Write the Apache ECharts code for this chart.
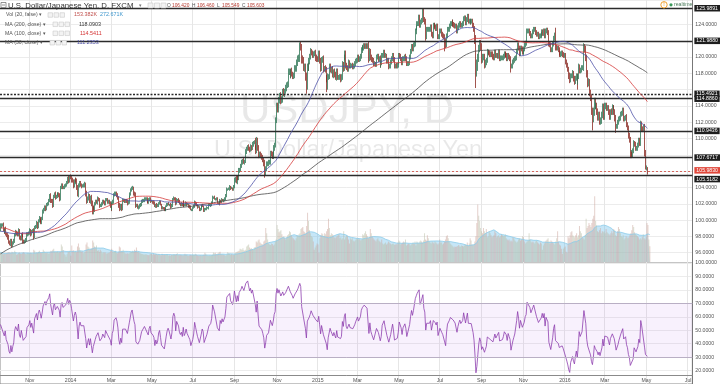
<!DOCTYPE html>
<html><head><meta charset="utf-8">
<script src="https://cdn.jsdelivr.net/npm/echarts@6/dist/echarts.min.js"></script>
<style>html,body{margin:0;padding:0;background:#fff}#c{width:720px;height:384px}</style>
</head><body><div id="c"></div><script>
// ---------- DATA ----------
// Daily closes before the visible window (Dec 13 2012 - Sep 18 2013), only used to warm up the MAs / RSI
const preCloses = [
83.6,84.2,84.1,84.3,84.4,84.2,84.3,84.6,85.0,85.5,85.9,86.0,86.7,
87.2,87.6,88.2,87.9,87.5,87.8,88.7,89.2,89.2,88.5,89.0,90.0,90.1,89.6,89.2,88.7,88.8,88.5,90.0,90.6,90.7,91.0,91.7,
92.6,92.5,92.3,93.6,93.6,92.7,93.4,93.4,93.1,92.8,93.5,93.6,93.6,93.3,93.4,92.2,91.7,92.5,92.6,92.5,
93.6,93.6,93.6,95.0,96.0,96.3,96.2,95.9,96.2,95.3,95.4,95.0,95.6,95.6,94.5,94.2,94.3,94.4,94.6,94.2,94.2,
93.3,93.3,93.2,96.2,97.6,99.2,98.8,99.6,99.8,99.3,98.2,97.6,97.8,98.2,98.0,99.7,99.3,99.7,98.7,97.9,97.5,97.4,
97.5,98.5,99.1,99.3,98.8,99.0,100.5,101.6,101.7,102.2,102.3,102.2,101.7,102.6,103.2,102.0,101.2,101.8,101.4,102.0,101.6,100.7,100.7,
100.0,99.6,99.4,97.1,96.8,98.5,97.4,95.9,94.0,94.0,94.3,95.1,95.5,97.3,97.8,98.2,98.6,97.9,98.5,99.1,
99.6,99.5,100.0,100.4,101.0,101.4,100.5,99.5,99.2,100.0,99.8,99.5,100.2,99.7,99.4,99.6,99.8,99.0,98.2,97.9,98.0,97.9,97.8,
98.6,99.0,98.9,98.6,97.7,97.2,96.7,96.3,96.8,97.6,97.8,97.3,97.6,97.7,97.2,98.3,98.4,98.7,98.4,97.8,98.0,98.1,
99.0,99.5,99.7,99.6,99.8,99.6,100.2,99.6,99.5,99.3,99.1,99.0,98.8
];
// Visible window: one trading day each, from 2013-09-19
const firstDay = '2013-09-19';
const lastCategoryDay = '2016-07-07';
const closes2013 = [
99.3,99.4,99.4,98.8,98.6,98.9,98.3,98.2,
97.9,97.3,97.1,97.5,96.9,97.2,97.4,98.2,98.5,98.4,98.2,98.7,97.9,97.7,98.2,98.1,97.4,97.3,97.4,97.6,98.2,98.3,98.4,
98.7,98.3,98.6,98.7,98.0,99.1,99.2,99.6,99.2,99.9,100.2,100.0,99.7,100.2,101.0,101.3,101.6,101.4,101.9,102.0,102.4,
103.0,102.4,102.3,101.8,102.9,103.2,102.8,102.9,103.2,103.2,103.0,102.6,104.0,104.3,104.0,104.0,104.2,104.3,104.6,105.1,104.8,105.3
];
const closes2014 = [
105.2,104.9,104.8,104.2,104.7,105.0,104.8,104.1,103.1,104.2,104.6,104.3,104.2,104.2,104.3,104.4,103.3,102.3,102.7,103.0,102.3,102.8,102.0,
101.0,101.5,101.3,102.0,102.3,102.2,102.6,102.5,101.8,101.8,102.0,102.3,102.2,102.0,102.5,102.5,102.2,102.3,102.1,101.8,
101.4,102.1,102.3,103.1,103.2,103.3,103.1,102.7,101.8,101.4,101.8,101.4,102.4,102.4,102.3,102.4,102.3,102.1,102.2,102.8,103.2,
103.7,103.9,103.9,103.3,103.1,101.8,101.8,101.6,101.6,101.8,101.9,102.3,102.4,102.4,102.6,102.6,102.6,102.3,102.2,102.5,102.6,102.3,
102.3,102.2,102.1,101.7,101.9,101.7,101.8,102.1,102.2,101.9,101.5,101.5,101.4,101.3,101.3,101.7,101.9,102.0,101.9,101.9,101.6,101.8,
102.5,102.7,102.6,102.0,102.5,102.5,102.3,102.0,101.9,102.0,101.8,102.2,101.8,101.9,102.1,101.9,101.9,101.7,101.6,101.3,101.3,
101.5,101.7,102.2,102.0,101.8,101.6,101.6,101.3,101.3,101.6,101.8,101.7,101.2,101.3,101.4,101.5,101.5,101.8,101.8,101.9,102.1,102.8,102.8,
102.6,102.6,102.6,102.1,102.1,102.0,102.4,102.3,102.5,102.4,102.4,102.6,103.0,103.8,103.8,103.8,104.1,103.9,103.9,103.8,104.1,
104.9,105.1,104.7,105.3,105.1,106.1,106.2,106.6,107.1,107.3,107.1,107.2,108.4,108.7,109.0,108.8,108.6,109.0,108.8,109.3,109.5,109.6,
108.9,108.5,109.8,108.9,108.0,108.1,107.9,107.7,107.4,107.0,105.9,106.3,106.9,106.9,107.1,107.1,108.2,108.1,107.8,108.2,108.9,109.2,112.3,
114.0,113.6,114.7,115.3,114.6,114.8,115.8,115.5,115.8,116.2,116.6,116.6,118.2,118.2,117.8,118.3,117.9,117.7,117.7,118.6,
118.6,119.3,119.8,119.8,121.4,121.2,119.7,119.6,118.7,118.8,117.6,116.4,118.8,118.7,119.5,120.0,120.7,120.5,120.2,120.4,120.5,119.9,119.8
];
const closes2015 = [
119.7,120.4,119.6,118.6,119.6,119.8,118.5,118.6,118.4,117.3,116.3,117.6,117.6,118.8,118.4,118.5,117.8,118.2,117.8,117.5,118.3,117.5,
117.5,117.6,117.3,117.5,119.1,118.6,119.9,120.4,119.0,118.7,118.5,119.3,118.9,119.0,119.0,118.8,118.9,119.2,119.5,119.6,
120.0,119.7,119.8,120.1,120.8,121.1,121.1,121.4,121.3,121.4,121.3,121.4,119.8,120.7,120.0,119.7,119.6,119.2,119.2,119.1,120.0,120.1,
119.7,119.8,119.0,119.3,120.2,120.2,120.6,120.2,120.2,119.5,119.6,118.9,118.9,119.4,119.8,120.2,119.7,118.9,119.0,118.9,119.0,119.4,
120.2,120.1,119.8,119.3,119.8,119.8,120.1,119.8,119.2,119.2,119.3,120.0,120.7,121.3,121.0,121.5,121.6,123.1,123.6,124.1,124.1,
124.8,123.9,124.3,124.5,125.6,124.6,124.3,122.5,123.4,123.4,123.4,123.4,123.7,122.8,122.6,123.9,123.9,123.7,123.5,123.8,122.5,122.5,
123.2,123.2,122.8,122.6,122.5,121.9,121.5,122.6,123.4,123.4,123.8,124.1,124.1,124.3,124.0,123.9,123.8,123.8,123.2,123.6,123.9,124.1,123.9,
123.9,124.1,124.7,124.8,124.2,124.6,125.0,124.4,124.4,124.3,124.4,124.4,123.9,123.4,122.0,118.4,118.9,119.9,121.0,121.7,121.2,
119.7,120.0,120.0,119.0,119.3,119.6,120.6,120.6,120.5,120.3,120.4,120.3,120.0,119.9,120.6,120.2,120.2,120.1,120.6,119.8,119.9,119.9,
119.9,120.1,120.4,120.3,120.2,119.8,120.2,120.0,119.8,118.9,118.9,119.4,119.6,119.8,119.9,120.7,121.5,121.1,120.4,121.1,121.0,120.6,
120.6,121.0,121.5,121.7,123.2,123.2,123.2,122.9,122.6,122.6,123.1,123.4,123.4,123.0,122.8,122.8,122.5,122.6,122.6,122.8,123.1,
122.9,123.2,122.6,123.2,123.3,123.0,121.6,121.5,120.9,120.9,121.6,122.3,122.6,121.2,121.1,121.1,120.9,120.5,120.3,120.4,120.5,120.3,120.2
];
const closes2016 = [
120.2,119.4,119.0,118.5,117.7,117.2,117.7,117.7,118.0,117.4,117.0,117.4,117.7,116.9,117.6,118.8,118.3,118.4,118.7,118.7,121.1,
121.0,119.9,117.9,116.8,116.9,115.6,115.0,113.3,112.4,113.2,114.6,114.0,114.0,113.3,112.6,112.9,112.1,112.2,112.9,113.9,112.7,
114.0,114.0,113.7,113.8,113.2,112.6,113.3,113.2,113.8,113.8,113.2,112.5,111.5,111.5,112.0,112.4,112.5,113.0,113.1,113.5,112.4,112.5,112.6,
111.7,111.3,110.3,109.8,108.1,108.1,108.0,108.5,109.4,109.3,108.8,108.8,109.2,109.8,109.4,111.8,111.2,111.1,111.4,108.1,106.4,
106.4,105.98
];
// Upper / lower shadows, in tenths of a yen beyond the candle body
const wickHi2013 = [3,2,2,3,2,2,3,2, 2,3,2,2,2,2,3,2,3,2,2,3,2,2,2,3,2,2,2,2,3,2,2, 3,2,2,2,3,2,2,3,2,2,3,2,2,2,3,2,2,2,2,2,2, 2,3,2,3,2,2,3,2,2,2,2,3,2,2,2,2,2,2,2,2,3,1];
const wickLo2013 = [2,3,2,2,3,2,2,3, 3,2,2,3,3,2,2,2,2,3,2,2,3,2,2,2,3,2,2,2,2,2,2, 2,3,2,2,4,2,2,2,3,2,2,3,2,2,2,2,2,3,2,2,2, 2,3,2,3,2,2,3,2,2,2,2,3,2,2,2,2,2,2,2,2,3,2];
const wickHi2014 = [
3,2,3,2,3,2,2,3,2,3,2,2,2,2,2,3,2,3,2,3,2,2,3, 4,2,3,2,2,2,3,2,2,2,2,2,2,2,2,2,2,2,2,2, 3,2,2,2,3,2,2,2,2,3,2,2,2,2,2,2,2,2,2,2,2,
2,2,3,2,2,3,2,2,2,2,2,2,2,2,2,2,2,2,2,2,2,2, 2,1,2,2,1,2,2,1,2,2,1,2,1,2,2,1,2,1,2,1,2,2, 2,2,1,2,2,1,2,2,1,2,1,2,2,1,2,1,2,1,2,2,1,
1,2,2,1,2,1,2,1,2,2,1,2,1,2,1,2,1,2,2,1,2,2,1, 2,1,2,2,1,2,2,1,2,1,2,2,2,2,1,2,2,1,2,1,2, 3,2,3,2,2,3,2,3,3,2,3,2,3,3,2,3,2,3,2,3,2,2,
5,3,4,3,3,3,3,3,3,3,4,3,3,3,3,3,3,3,3,3,3,3,3, 4,4,4,3,4,4,3,4,3,4,3,4,4,4,3,3,4,3,4,4, 4,4,4,5,4,5,4,5,4,4,4,5,4,5,4,4,4,3,3,3,3,4,4];
const wickLo2014 = [
2,3,2,3,2,3,2,4,2,3,2,2,3,2,2,3,4,3,2,3,2,3,3, 3,3,2,3,2,2,3,2,3,2,2,2,2,2,2,2,2,2,2,3, 3,2,2,3,2,2,3,2,3,3,2,3,2,2,2,2,2,3,2,2,2,
2,2,2,3,2,3,2,2,3,2,2,2,2,2,2,2,2,2,2,2,2,2, 1,2,2,1,2,2,1,2,2,1,2,2,1,2,2,2,1,2,1,2,2,1, 2,1,2,2,1,2,2,1,2,2,1,2,2,1,2,2,1,2,2,1,2,
2,1,2,2,1,2,1,2,2,1,2,1,2,2,1,2,1,2,1,2,2,1,2, 1,2,2,1,2,2,1,2,2,1,2,1,2,2,2,1,2,2,1,2,2, 2,3,2,3,2,2,3,2,2,3,2,3,2,3,2,3,3,2,3,2,3,2,
3,4,3,4,4,3,3,3,3,4,7,4,3,3,3,3,3,3,3,3,3,4,3, 4,4,4,4,4,3,4,3,4,3,4,4,3,4,4,4,3,4,4,3, 4,4,4,4,4,4,5,4,4,5,5,9,4,4,4,4,3,3,3,3,3,4,4];
const wickHi2015 = [
3,4,4,3,4,3,4,3,4,4,5,4,3,4,4,3,4,3,4,4,3,3, 3,3,3,4,4,3,4,4,4,3,3,4,3,3,2,3,3,3,3,3, 3,3,3,3,4,3,4,3,3,3,3,3,5,4,3,3,3,3,3,2,3,3,
3,3,4,3,3,3,3,3,3,2,3,3,3,3,3,3,3,3,2,3,3,3, 3,3,3,2,3,3,2,3,3,3,2,3,3,3,3,3,3,4,3,3,3, 4,4,3,3,3,4,3,4,3,3,3,3,3,3,3,3,3,3,3,3,3,3,
3,3,3,3,3,3,4,3,3,3,3,3,3,3,3,3,3,3,3,3,3,3,3, 3,3,3,3,3,3,3,3,3,3,3,3,3,3,4,7,8,5,5,4,4, 5,4,4,4,4,3,4,3,3,3,3,3,4,4,3,3,3,3,3,3,3,3,
3,3,3,3,3,3,3,3,3,3,3,3,3,3,3,3,3,3,3,3,3,3, 3,3,3,3,3,3,3,3,3,3,3,3,3,3,3,3,3,3,3,3,3, 3,3,3,3,3,3,3,3,3,3,3,3,4,10,3,3,3,3,3,3,3,3,3];
const wickLo2015 = [
3,3,4,4,3,3,4,3,3,4,6,3,4,3,3,4,3,4,3,3,4,3, 3,3,4,3,3,4,3,3,4,3,3,3,3,3,3,3,3,3,3,3, 3,3,3,3,3,3,3,3,3,3,3,3,5,3,4,3,3,3,3,3,3,3,
3,3,3,3,3,3,3,3,3,3,3,4,3,3,3,3,3,3,3,3,3,3, 3,3,3,3,3,3,3,3,3,3,3,3,3,3,3,3,3,3,3,3,3, 3,3,3,3,3,3,3,5,3,3,3,3,3,3,3,3,3,3,3,3,3,3,
3,3,3,3,3,12,4,3,3,3,3,3,3,3,3,3,3,3,3,3,3,3,3, 3,3,3,3,3,3,3,3,3,3,3,3,3,3,4,22,8,6,5,4,4, 5,4,4,4,3,3,3,3,3,3,3,3,3,3,3,3,3,3,3,3,3,3,
3,3,3,3,3,3,3,3,3,8,3,3,3,3,3,3,3,3,3,3,3,3, 3,3,3,3,3,3,3,3,3,3,3,3,3,3,3,3,3,3,3,3,3, 3,3,3,3,3,3,3,3,3,3,3,3,3,4,3,3,3,3,3,3,3,3,3];
const wickHi2016 = [
3,3,3,3,3,4,3,3,4,3,3,3,3,3,3,4,3,3,3,3,6, 5,4,4,5,5,4,4,4,5,6,4,4,4,4,4,4,4,4,4,4,4,
4,4,4,3,3,4,3,4,4,3,3,4,4,3,3,3,3,3,3,3,3,3,3, 4,3,3,4,4,5,3,3,4,3,3,3,3,3,3,4,3,3,3,4,5, 3,1];
const wickLo2016 = [
3,3,3,3,4,4,3,3,3,4,4,3,3,9,3,3,3,3,3,3,4, 4,4,4,5,4,4,4,4,14,4,4,4,4,4,4,4,4,4,4,4,4,
4,4,3,3,3,3,3,3,3,3,3,4,8,3,3,3,3,3,3,3,3,3,3, 3,3,3,3,5,3,4,3,3,3,3,3,3,3,3,3,3,3,3,3,2, 3,4];
// Volume, thousands
const vol2013 = [95,88,80,76,82,78,85,90,
92,98,90,85,100,96,88,110,95,70,75,88,92,80,78,85,98,90,80,76,88,84,86,
90,88,85,80,120,110,86,92,90,100,110,94,88,95,120,105,92,88,96,85,80,
95,110,105,120,130,100,96,98,105,92,95,100,170,150,118,80,70,50,75,95,100,110];
const vol2014 = [
60,160,110,115,100,105,95,150,180,140,110,100,105,85,92,100,170,190,150,140,120,130,135,
210,190,150,140,160,110,115,100,120,105,85,95,90,95,85,80,88,90,92,110,
130,100,95,105,110,90,85,95,150,140,110,100,120,95,85,80,82,85,80,90,95,
100,110,100,120,110,140,100,95,90,85,80,78,75,70,72,75,70,68,65,72,78,80,
70,80,72,75,78,70,75,72,68,66,80,70,68,72,70,75,72,60,65,62,70,68,
72,75,70,78,85,68,66,70,65,68,62,70,80,72,70,62,60,65,68,66,70,
68,70,80,72,65,62,60,66,64,60,65,70,90,80,65,62,60,64,62,65,70,92,85,
90,75,80,85,95,100,78,70,72,68,65,62,70,95,85,80,70,75,72,70,68,
90,95,100,105,110,130,125,120,135,115,110,120,150,160,170,140,130,135,125,120,140,145,
200,190,210,220,190,180,175,170,200,210,330,280,220,180,170,165,180,175,160,170,200,220,360,
320,290,300,310,270,240,250,230,220,240,260,270,300,290,260,240,230,220,210,230,
260,250,270,280,320,330,340,300,290,280,350,480,400,310,280,250,240,200,120,140,160,180,170];
const vol2015 = [
90,230,260,280,270,250,280,270,300,320,420,330,260,280,270,260,240,230,240,250,260,270,
230,240,220,230,300,220,240,260,250,220,180,230,220,230,210,200,210,220,230,220,
230,220,210,220,270,260,280,300,270,250,230,240,320,280,250,230,220,210,200,220,230,210,
200,190,220,180,170,180,190,170,180,200,190,180,170,175,180,170,165,175,170,190,210,200,
170,180,190,200,190,220,160,170,180,175,160,170,180,190,175,200,160,200,190,180,200,
210,200,190,210,280,220,210,260,230,200,190,180,200,190,180,200,190,180,170,180,220,190,
190,170,180,200,220,250,260,230,200,180,170,160,150,140,150,145,150,155,165,150,150,160,155,
150,160,170,165,190,160,180,230,210,170,160,170,200,250,380,560,450,400,330,300,280,
330,300,280,320,240,250,300,280,260,240,250,260,300,280,240,250,260,240,250,270,260,250,
250,270,230,220,210,220,200,210,200,240,230,210,200,190,200,220,230,210,220,250,240,200,
180,190,200,210,280,220,200,190,200,190,180,200,210,190,180,170,190,180,120,160,180,
200,210,220,230,200,180,210,200,190,180,170,200,230,300,200,170,160,130,80,130,140,150,100];
const vol2016 = [
90,250,230,260,290,300,260,250,240,260,280,240,260,350,300,280,240,230,220,260,420,
330,350,380,360,340,380,420,450,640,400,360,300,290,310,330,280,300,290,300,280,320,
290,280,270,260,280,300,280,320,310,260,250,300,340,320,280,250,240,260,220,230,250,240,230,
240,260,280,310,360,340,290,270,260,250,240,220,230,220,240,270,230,220,240,380,360,
220,153];
// Horizontal levels drawn on the chart
const levelLines = [125.9891, 121.9880, 115.4921, 114.8860, 110.9436, 107.6717, 105.5182];
const dashedLevels = [115.4921];
const lastPrice = 105.9830;
const hiddenPriceTicks = [126, 122, 116, 108, 106];
const monthNames = ['Jan','Feb','Mar','Apr','May','Jun','Jul','Aug','Sep','Oct','Nov','Dec'];

// ---------- BUILD ----------
const closes = [].concat(closes2013, closes2014, closes2015, closes2016);
const wickHi = [].concat(wickHi2013, wickHi2014, wickHi2015, wickHi2016);
const wickLo = [].concat(wickLo2013, wickLo2014, wickLo2015, wickLo2016);
const vols = [].concat(vol2013, vol2014, vol2015, vol2016);
const dates = [];
for (let d = new Date(firstDay + 'T00:00:00Z'); d <= new Date(lastCategoryDay + 'T00:00:00Z'); d.setUTCDate(d.getUTCDate() + 1)) {
  const wd = d.getUTCDay();
  if (wd === 0 || wd === 6) continue;
  dates.push(d.toISOString().slice(0, 10));
}
const candles = closes.map((c, i) => {
  const o = i === 0 ? preCloses[preCloses.length - 1] : closes[i - 1];
  const hi = Math.max(o, c) + (wickHi[i] || 2) / 10;
  const lo = Math.min(o, c) - (wickLo[i] || 2) / 10;
  return [o, c, +lo.toFixed(3), +hi.toFixed(3)];
});
const all = preCloses.concat(closes);
const P = preCloses.length;
function sma(arr, n, off) {
  const out = [];
  for (let i = off; i < arr.length; i++) {
    let s = 0, k = 0;
    for (let j = Math.max(0, i - n + 1); j <= i; j++) { s += arr[j]; k++; }
    out.push(+(s / k).toFixed(4));
  }
  return out;
}
const ma50 = sma(all, 50, P), ma100 = sma(all, 100, P), ma200 = sma(all, 200, P);
const volMA = sma(vols, 20, 0);
// RSI 14 (Wilder)
const rsi = [];
(function () {
  let ag = 0, al = 0;
  for (let i = 1; i < all.length; i++) {
    const ch = all[i] - all[i - 1];
    const g = Math.max(ch, 0), l = Math.max(-ch, 0);
    if (i <= 14) { ag += g / 14; al += l / 14; }
    else { ag = (ag * 13 + g) / 14; al = (al * 13 + l) / 14; }
    if (i >= P) rsi.push(+(al === 0 ? 100 : 100 - 100 / (1 + ag / al)).toFixed(2));
  }
})();
const tickSet = new Set();
for (let i = 1; i < dates.length; i++) {
  const m = +dates[i].slice(5, 7);
  if (dates[i].slice(5, 7) !== dates[i - 1].slice(5, 7) && m % 2 === 1) tickSet.add(i);
}
const labelOf = (v) => { const m = +v.slice(5, 7); return m === 1 ? v.slice(0, 4) : monthNames[m - 1]; };

const UP = '#2f7656', DOWN = '#8a2a22';
const FONT = '"Liberation Sans", Arial, sans-serif';
const markLineData = levelLines.map(v => ({
  name: v.toFixed(4),
  yAxis: v,
  lineStyle: { color: '#2b2b2b', width: 1.3, type: dashedLevels.indexOf(v) >= 0 ? [2, 1.5] : 'solid' },
  label: { offset: v === 105.5182 ? [0, 4] : [0, 0] }
}));
markLineData.push({
  name: lastPrice.toFixed(4),
  yAxis: lastPrice,
  lineStyle: { color: '#d0463a', width: 0.8, type: [2, 2] },
  label: { backgroundColor: '#e0483b', offset: [0, -1] }
});

// header graphics
const G = [];
function txt(x, y, s, size, color, weight) {
  G.push({ type: 'text', x: x, y: y, silent: true, z: 100,
    style: { text: s, fontSize: size, fontFamily: FONT, fill: color, verticalAlign: 'middle', fontWeight: weight || 'normal' } });
}
function icons(x, y, s) {
  for (let k = 0; k < 3; k++) G.push({ type: 'rect', z: 100, silent: true,
    shape: { x: x + k * (s + 1.5), y: y - s / 2, width: s, height: s },
    style: { fill: '#f3f3f3', stroke: '#c9c9c9', lineWidth: 0.6 } });
}
G.push({ type: 'rect', z: 100, silent: true, shape: { x: 1, y: 2.5, width: 5, height: 5 }, style: { fill: '#fff', stroke: '#666', lineWidth: 0.7 } });
G.push({ type: 'line', z: 100, silent: true, shape: { x1: 2, y1: 5, x2: 5, y2: 5 }, style: { stroke: '#666', lineWidth: 0.7 } });
txt(8, 5.5, 'U.S. Dollar/Japanese Yen, D, FXCM', 7.8, '#333');
txt(139, 5.5, '▾', 5, '#777');
icons(148, 5.5, 5);
const ohlc = [['O', '106.420', 167], ['H', '106.460', 192], ['L', '105.549', 217], ['C', '105.603', 242]];
ohlc.forEach(a => { txt(a[2], 5.5, a[0], 4.8, '#555'); txt(a[2] + 5, 5.5, a[1], 4.8, '#b5362b'); });
const subs = [
  ['Vol (20, false)', 6, 15, 48, [['153.382K', 74, '#c0504d'], ['272.671K', 100, '#3c95cc']]],
  ['MA (200, close)', 5, 24.3, 53, [['118.0903', 79, '#333']]],
  ['MA (100, close)', 5, 33.3, 53, [['114.5411', 80, '#d32f2f']]],
  ['MA (50, close)', 5, 42.7, 50, [['111.2353', 77, '#4b4fa6']]]
];
subs.forEach(s => {
  txt(s[1], s[2], s[0] + ' ▾', 5.2, '#555');
  icons(s[3], s[2], 4.5);
  s[4].forEach(v => txt(v[1], s[2], v[0], 5.4, v[2]));
});
G.push({ type: 'circle', z: 100, silent: true, shape: { cx: 664, cy: 4.8, r: 3.2 }, style: { fill: '#fff', stroke: '#f0a030', lineWidth: 1 } });
txt(663.2, 4.9, '!', 4.5, '#f0a030', 'bold');
G.push({ type: 'circle', z: 100, silent: true, shape: { cx: 671, cy: 4.8, r: 1.6 }, style: { fill: '#3a9a5a' } });
txt(674, 4.8, 'realtime', 5.2, '#4a7a5a');
// watermark
G.push({ type: 'text', z: 0, silent: true, x: 347, y: 132,
  style: { text: 'USDJPY, D', fontSize: 42, fontFamily: FONT, fill: 'rgba(0,0,0,0.09)', align: 'center', verticalAlign: 'bottom' } });
G.push({ type: 'text', z: 0, silent: true, x: 348, y: 163,
  style: { text: 'U.S. Dollar/Japanese Yen', fontSize: 23.5, fontFamily: FONT, fill: 'rgba(0,0,0,0.09)', align: 'center', verticalAlign: 'bottom' } });

const catAxisBase = { type: 'category', data: dates, boundaryGap: true, axisTick: { show: false } };
const option = {
  animation: false,
  backgroundColor: '#fff',
  textStyle: { fontFamily: FONT },
  graphic: G,
  grid: [
    { left: 0, right: 25, top: 0, height: 269 },
    { left: 0, right: 25, top: 0, height: 262 },
    { left: 0, right: 25, top: 263, height: 122.6, show: true, borderColor: '#8a8a8a', borderWidth: 1 }
  ],
  xAxis: [
    Object.assign({}, catAxisBase, { gridIndex: 0, axisLine: { show: false }, axisLabel: { show: false },
      splitLine: { show: true, interval: (i) => tickSet.has(i), lineStyle: { color: '#e6e6e6', width: 1 } } }),
    Object.assign({}, catAxisBase, { gridIndex: 1, axisLine: { show: false }, axisLabel: { show: false }, splitLine: { show: false } }),
    Object.assign({}, catAxisBase, { gridIndex: 2, offset: -8.6,
      axisLine: { show: true, lineStyle: { color: '#8a8a8a', width: 1 } },
      axisLabel: { interval: (i) => tickSet.has(i), formatter: (v) => labelOf(v), fontSize: 5.2, color: '#555', margin: 3, fontFamily: FONT },
      splitLine: { show: true, interval: (i) => tickSet.has(i), lineStyle: { color: '#e6e6e6', width: 1 } } })
  ],
  yAxis: [
    { type: 'value', gridIndex: 0, position: 'right', min: 94, max: 127, interval: 2, scale: true,
      axisLine: { show: true, lineStyle: { color: '#777', width: 1 } }, axisTick: { show: false },
      axisLabel: { showMinLabel: false, showMaxLabel: false, fontSize: 5.2, color: '#555', margin: 3, fontFamily: FONT,
        formatter: (v) => hiddenPriceTicks.indexOf(v) >= 0 ? '' : v.toFixed(4) },
      splitLine: { show: true, showMinLine: false, lineStyle: { color: '#ececec', width: 1 } } },
    { type: 'value', gridIndex: 1, min: 0, max: 2550, show: false, splitLine: { show: false } },
    { type: 'value', gridIndex: 2, position: 'right', min: 10, max: 100, interval: 10,
      axisLine: { show: true, lineStyle: { color: '#777', width: 1 } }, axisTick: { show: false },
      axisLabel: { showMinLabel: false, fontSize: 5.2, color: '#555', margin: 3, fontFamily: FONT, formatter: (v) => v.toFixed(4) },
      splitLine: { show: true, lineStyle: { color: '#ececec', width: 1 } } }
  ],
  series: [
    { type: 'bar', name: 'vol', xAxisIndex: 1, yAxisIndex: 1, barWidth: 1, silent: true, z: 1,
      data: vols.map((v, i) => ({ value: v, itemStyle: { color: candles[i][1] >= candles[i][0] ? 'rgba(185,190,165,0.5)' : 'rgba(205,170,160,0.55)' } })) },
    { type: 'line', name: 'volMA', xAxisIndex: 1, yAxisIndex: 1, data: volMA, symbol: 'none', silent: true, z: 1,
      lineStyle: { color: '#8ccbea', width: 0.8 }, areaStyle: { color: 'rgba(120,195,235,0.6)' } },
    { type: 'candlestick', name: 'USDJPY', xAxisIndex: 0, yAxisIndex: 0, data: candles, large: false, progressive: 0,
      barWidth: 1.2, z: 3,
      itemStyle: { color: UP, color0: DOWN, borderColor: UP, borderColor0: DOWN, borderWidth: 0.8 },
      markLine: { silent: true, symbol: ['none', 'none'], animation: false, z: 4,
        label: { show: true, position: 'end', distance: 2, formatter: '{b}', color: '#fff',
          backgroundColor: '#1e1e1e', padding: [1, 2, 0.5, 2], fontSize: 5.2, fontFamily: FONT },
        data: markLineData } },
    { type: 'line', name: 'MA200', xAxisIndex: 0, yAxisIndex: 0, data: ma200, symbol: 'none', silent: true, z: 4,
      lineStyle: { color: '#4a4a4a', width: 0.8 } },
    { type: 'line', name: 'MA100', xAxisIndex: 0, yAxisIndex: 0, data: ma100, symbol: 'none', silent: true, z: 4,
      lineStyle: { color: '#d63a3a', width: 0.8 } },
    { type: 'line', name: 'MA50', xAxisIndex: 0, yAxisIndex: 0, data: ma50, symbol: 'none', silent: true, z: 4,
      lineStyle: { color: '#4e52a8', width: 0.8 } },
    { type: 'line', name: 'RSI', xAxisIndex: 2, yAxisIndex: 2, data: rsi, symbol: 'none', silent: true, z: 4,
      lineStyle: { color: '#8e3fae', width: 0.8 },
      markArea: { silent: true, itemStyle: { color: 'rgba(160,80,230,0.08)' }, data: [[{ yAxis: 30 }, { yAxis: 70 }]] },
      markLine: { silent: true, symbol: ['none', 'none'], label: { show: false },
        lineStyle: { color: '#b9afc4', width: 1, type: 'solid' }, data: [{ yAxis: 70 }, { yAxis: 30 }] } }
  ]
};
const chart = echarts.init(document.getElementById('c'), null, { renderer: 'canvas' });
chart.setOption(option);
</script></body></html>
